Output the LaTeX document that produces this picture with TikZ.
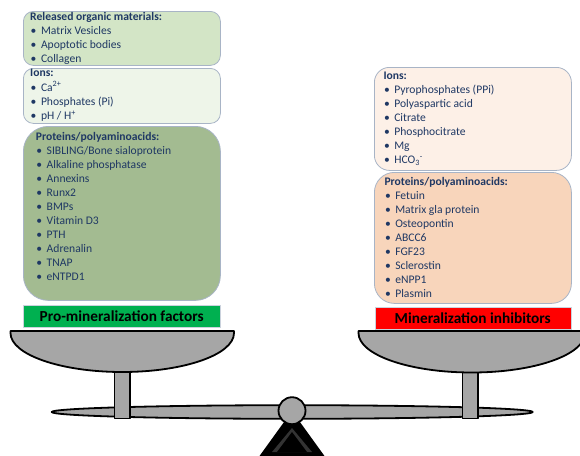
\documentclass[tikz,border=0pt]{standalone}
\usepackage{fontspec}
\setmainfont{Carlito}
\definecolor{navy}{HTML}{1F3864}
\definecolor{bord}{HTML}{A8B4C6}
\definecolor{gA}{HTML}{D3E5C6}
\definecolor{gB}{HTML}{EEF5E9}
\definecolor{gC}{HTML}{A3BB91}
\definecolor{oA}{HTML}{FDF0E7}
\definecolor{oB}{HTML}{F8D5BB}
\definecolor{gbar}{HTML}{00B050}
\definecolor{rbar}{HTML}{FF0000}
\definecolor{pang}{HTML}{A6A6A6}
\newcommand\mylist[6]{%
  \node[head] (#1h) at (#2,#3) {#5};
  \foreach \x [count=\i] in {#6}{
    \node[bul] (#1b\i) at (#2+0.5,#3+#4*\i) {\textbullet};
    \node[itm] (#1t\i) at (#2+10.8,#3+#4*\i) {\x};
  }%
}
\begin{document}
\begin{tikzpicture}[x=1pt,y=-1pt,
  panel/.style={draw=bord, line width=0.8pt, anchor=north west, inner sep=0pt},
  head/.style={anchor=base west, inner sep=0pt, text=navy, font=\fontsize{11.6}{13}\selectfont\bfseries},
  itm/.style={anchor=base west, inner sep=0pt, text=navy, font=\fontsize{11.6}{13}\selectfont},
  bul/.style={anchor=base west, inner sep=0pt, text=navy, font=\fontsize{11.6}{13}\selectfont},
  bar/.style={anchor=north west, inner sep=0pt, draw=bord!60, line width=0.4pt},
  barlabel/.style={font=\fontsize{15.3}{17}\selectfont\bfseries, text=black, inner sep=0pt},
  metal/.style={fill=pang, draw=black, line width=1.8pt, line join=round}]
\useasboundingbox (0,0) rectangle (580,455);

% boxes
\node[panel, fill=gA, rounded corners=10pt, minimum width=197pt, minimum height=54pt] (b1) at (23,11) {};
\node[panel, fill=gB, rounded corners=10pt, minimum width=197pt, minimum height=55pt] (b2) at (23,68) {};
\node[panel, fill=gC, rounded corners=25pt, minimum width=197pt, minimum height=174pt] (b3) at (23,126) {};
\node[panel, fill=oA, rounded corners=15pt, minimum width=197pt, minimum height=103pt] (r1) at (374,67) {};
\node[panel, fill=oB, rounded corners=20pt, minimum width=197pt, minimum height=131pt] (r2) at (374,172) {};

% lists
\mylist{a}{30}{20.7}{14}{Released organic materials:}{Matrix Vesicles,Apoptotic bodies,Collagen}
\mylist{c}{30}{76.7}{14.4}{Ions:}{{Ca\textsuperscript{2+}},Phosphates (Pi),{pH / H\textsuperscript{+}}}
\mylist{p}{35.7}{140}{14}{Proteins/polyaminoacids:}{SIBLING/Bone sialoprotein,Alkaline phosphatase,Annexins,Runx2,BMPs,Vitamin D3,PTH,Adrenalin,TNAP,eNTPD1}
\mylist{i}{383.3}{79.3}{14.1}{Ions:}{Pyrophosphates (PPi),Polyaspartic acid,Citrate,Phosphocitrate,Mg,{HCO\textsubscript{3}\textsuperscript{-}}}
\mylist{q}{384.3}{185}{14}{Proteins/polyaminoacids:}{Fetuin,Matrix gla protein,Osteopontin,ABCC6,FGF23,Sclerostin,eNPP1,Plasmin}

% bars
\node[bar, fill=gbar, minimum width=197pt, minimum height=22pt] (gb) at (23,305) {};
\node[barlabel] (gl) at (gb.center) {Pro-mineralization factors};
\node[bar, fill=rbar, minimum width=196pt, minimum height=22pt] (rb) at (374.5,307) {};
\node[barlabel] (rl) at (rb.center) {Mineralization inhibitors};

% scale
\fill[black] (292,411) -- (259.5,456) -- (324.5,456) -- cycle;
\fill[black!80] (292,428) -- (272,452) -- (312,452) -- cycle;
\fill[black] (292,432) -- (277,452) -- (307,452) -- cycle;
\draw[metal] (292.2,412) ellipse [x radius=240.5, y radius=6.8];
\draw[metal] (114.5,365) rectangle (130,418.5);
\draw[metal] (462.5,365) rectangle (478,418.5);
\draw[metal] (10.5,331) -- (234,331) -- (234,333) arc[start angle=0,end angle=180,x radius=111.75,y radius=39] -- cycle;
\draw[metal] (358.5,331) -- (585,331) -- (585,333) arc[start angle=0,end angle=180,x radius=113.25,y radius=39.5] -- cycle;
\draw[metal] (292,410.7) circle [radius=13.5];
\end{tikzpicture}
\end{document}
